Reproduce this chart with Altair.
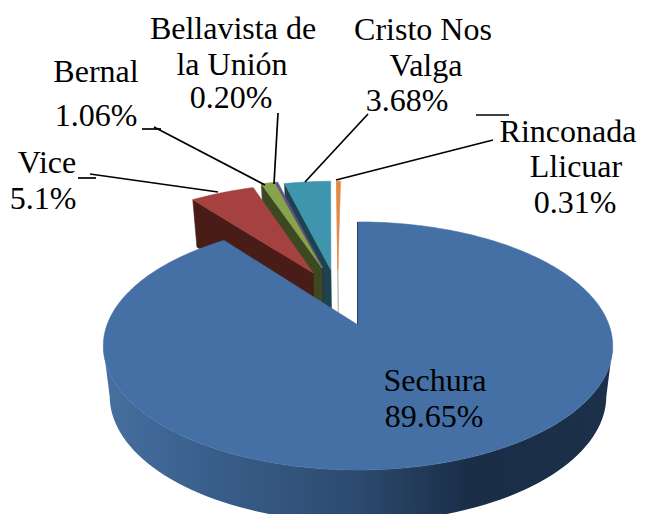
import math
import altair as alt
import pandas as pd

# Data
names = ["Sechura", "Vice", "Bernal", "Bellavista de la Unión", "Cristo Nos Valga", "Rinconada Llicuar"]
shares = [89.65, 5.1, 1.06, 0.20, 3.68, 0.31]
top_colors = ["#4470A5", "#A5423F", "#87A34C", "#6A4E8C", "#3F95AE", "#E5883F"]
cut_colors = ["#1B2F4A", "#4A1C18", "#3C4820", "#2C2A4A", "#1C4450", "#B0A090"]
explode_u = [0.0, -0.193, -0.156, -0.152, -0.117, -0.087]
explode_v = [0.0, 0.466, 0.514, 0.514, 0.495, 0.495]

label_lines = ["Bellavista de", "la Unión", "0.20%", "Bernal", "1.06%", "Vice", "5.1%",
               "Cristo Nos", "Valga", "3.68%", "Rinconada", "Llicuar", "0.31%", "Sechura", "89.65%"]
label_x = [233, 232, 231, 96, 96, 47, 43, 423, 426, 407, 568, 576, 575, 435, 434]
label_y = [39, 75, 108, 82, 126, 173, 209, 40, 76, 111, 142, 177, 213, 391, 427]

leader_x = [90, 78, 154, 142, 278, 368, 493, 476]
leader_y = [174, 178, 127, 129, 113, 114, 140, 115]
leader_x2 = [218, 96, 265, 161, 274, 305, 336, 509]
leader_y2 = [192, 178, 185, 129, 184, 182, 180, 115]

# Perspective pie geometry
CX, CY, A, B, K = 358, 325, 120.5, 251, 0.169
SX, SY, DEPTH = 0.975, 1.018, 49.7

def project(u, v):
    d = 1 + K * v
    return CX + B * u / d, CY - A * v / d

def rim(theta, ou, ov):
    r = math.radians(theta)
    return project(math.sin(r) + ou, math.cos(r) + ov)

def lower(p):
    return CX + SX * (p[0] - CX), CY + SY * (p[1] - CY) + DEPTH

xs = alt.X("x:Q", axis=None, scale=alt.Scale(domain=[8, 638], nice=False, zero=False))
ys = alt.Y("y:Q", axis=None, scale=alt.Scale(domain=[514, 8], nice=False, zero=False))

def poly(points, fill, stroke=None, width=0.6):
    df = pd.DataFrame({"x": [p[0] for p in points], "y": [p[1] for p in points],
                       "i": list(range(len(points)))})
    return alt.Chart(df).mark_line(fill=fill, stroke=stroke or "#000000",
                                   strokeWidth=width if stroke else 0, clip=True).encode(
        x=xs, y=ys, order="i:Q")

# Start and end angle of each slice, clockwise from the top
angles = []
acc = 0.0
for s in shares:
    angles.append((acc * 3.6, (acc + s) * 3.6))
    acc += s

layers = []
# Exploded slices, right to left: cut wall, then top face
for i in range(5, 0, -1):
    a0, a1 = angles[i]
    ou, ov = explode_u[i], explode_v[i]
    apex = project(ou, ov)
    r0 = rim(a0, ou, ov)
    layers.append(poly([r0, apex, lower(apex), lower(r0), r0], cut_colors[i], cut_colors[i]))
    n = max(4, int(a1 - a0) * 2)
    arc = [rim(a0 + (a1 - a0) * j / n, ou, ov) for j in range(n + 1)]
    layers.append(poly([apex] + arc + [apex], top_colors[i], top_colors[i]))

# Main slice: outer wall with gradient, edge and top face
thetas = [100 + j * 2 for j in range(81)]
top_front = [rim(t, 0, 0) for t in thetas]
bottom_front = [lower(p) for p in top_front]
wall_grad = alt.Gradient(
    gradient="linear", x1=0, x2=1, y1=0, y2=0,
    stops=[alt.GradientStop(color="#46709F", offset=0),
           alt.GradientStop(color="#3A5F8C", offset=0.2),
           alt.GradientStop(color="#2C4A6E", offset=0.5),
           alt.GradientStop(color="#1A2D47", offset=0.72),
           alt.GradientStop(color="#1C3049", offset=1)])
layers.append(poly(top_front + bottom_front[::-1] + [top_front[0]], wall_grad))

a0, a1 = angles[0]
apex = project(0, 0)
layers.append(poly([rim(0, 0, 0), apex], "#1B2F4A", "#1B2F4A", 2))
n = 360
arc = [rim(a0 + (a1 - a0) * j / n, 0, 0) for j in range(n + 1)]
layers.append(poly([apex] + arc + [apex], top_colors[0], top_colors[0]))

# Leader lines
leaders = pd.DataFrame({"x": leader_x, "y": leader_y, "x2": leader_x2, "y2": leader_y2})
layers.append(alt.Chart(leaders).mark_rule(color="#000000", strokeWidth=1.7).encode(
    x=xs, y=ys, x2="x2:Q", y2="y2:Q"))

# Labels
labels = pd.DataFrame({"x": label_x, "y": label_y, "t": label_lines})
layers.append(alt.Chart(labels).mark_text(
    font="Liberation Serif", fontSize=32, color="#000000", align="center", baseline="alphabetic"
).encode(x=xs, y=ys, text="t:N"))

chart = alt.layer(*layers).properties(
    width=630, height=506, padding=0, background="#FFFFFF",
    autosize=alt.AutoSizeParams(type="none")
).configure_view(stroke=None)

chart.save("out.html", embed_options={"renderer": "svg", "actions": False})
